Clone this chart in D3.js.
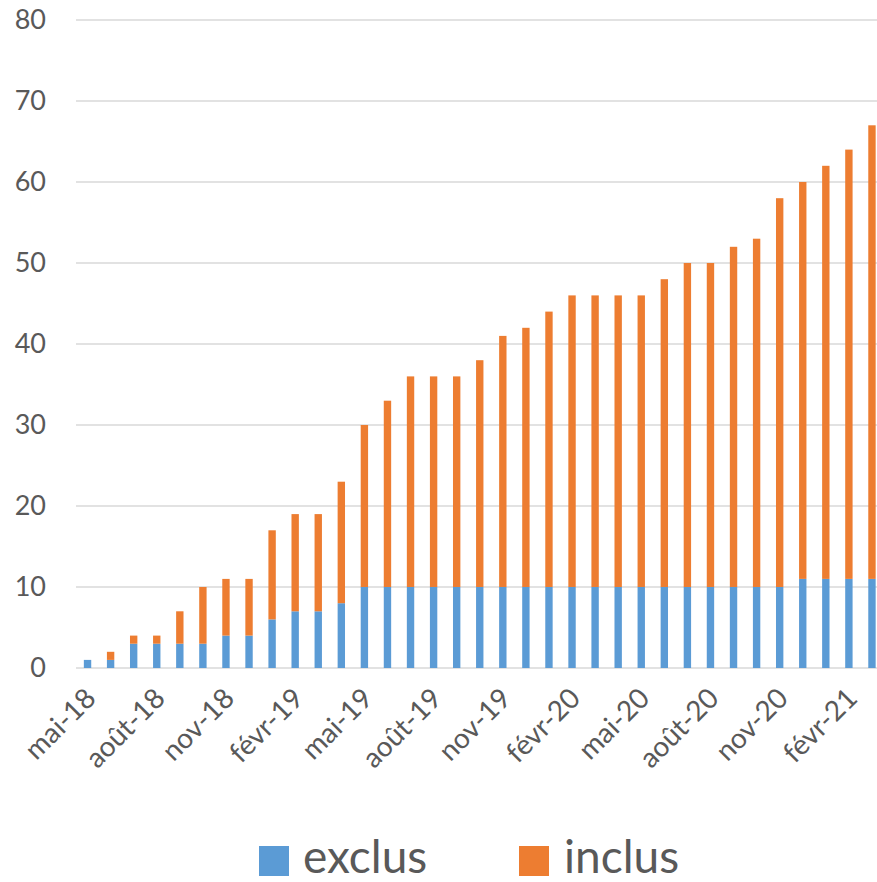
<!DOCTYPE html>
<html>
<head>
<meta charset="utf-8">
<script src="https://cdn.jsdelivr.net/npm/d3@7"></script>
<style>
  html, body { margin: 0; padding: 0; background: #fff; }
  svg { display: block; }
  text { font-family: Lato, "Open Sans", sans-serif; fill: #595959; }
</style>
</head>
<body>
<svg id="chart" width="877" height="882"></svg>
<script>
// Monthly cumulative counts, May 2018 – March 2021
const months = [
  "mai-18", "juin-18", "juil-18", "août-18", "sept-18", "oct-18", "nov-18", "déc-18",
  "janv-19", "févr-19", "mars-19", "avr-19", "mai-19", "juin-19", "juil-19", "août-19",
  "sept-19", "oct-19", "nov-19", "déc-19", "janv-20", "févr-20", "mars-20", "avr-20",
  "mai-20", "juin-20", "juil-20", "août-20", "sept-20", "oct-20", "nov-20", "déc-20",
  "janv-21", "févr-21", "mars-21"
];
const exclus = [1, 1, 3, 3, 3, 3, 4, 4, 6, 7, 7, 8, 10, 10, 10, 10, 10, 10, 10, 10,
  10, 10, 10, 10, 10, 10, 10, 10, 10, 10, 10, 11, 11, 11, 11];
const totals = [1, 2, 4, 4, 7, 10, 11, 11, 17, 19, 19, 23, 30, 33, 36, 36, 36, 38, 41, 42,
  44, 46, 46, 46, 46, 48, 50, 50, 52, 53, 58, 60, 62, 64, 67];
const inclus = totals.map((t, i) => t - exclus[i]);
// Every third month gets a label on the axis
const shownLabels = ["mai-18", "août-18", "nov-18", "févr-19", "mai-19", "août-19", "nov-19",
  "févr-20", "mai-20", "août-20", "nov-20", "févr-21"];
const yTicks = [0, 10, 20, 30, 40, 50, 60, 70, 80];
const seriesNames = ["exclus", "inclus"];
const colors = { exclus: "#5B9BD5", inclus: "#ED7D31" };

const svg = d3.select("#chart");

const x = d3.scaleBand()
  .domain(months)
  .range([76, 883.5])
  .paddingInner(0.68)
  .paddingOuter(0.34);

const y = d3.scaleLinear()
  .domain([0, 80])
  .range([668, 20]);

// Horizontal gridlines
svg.append("g")
  .selectAll("line")
  .data(yTicks)
  .join("line")
  .attr("x1", 76)
  .attr("x2", 883.5)
  .attr("y1", d => y(d))
  .attr("y2", d => y(d))
  .attr("stroke", "#D9D9D9")
  .attr("stroke-width", 1.5);

// Y axis labels
const yAxis = d3.axisLeft(y).tickValues(yTicks).tickSize(0).tickPadding(0);
const yg = svg.append("g")
  .attr("transform", "translate(46,0)")
  .call(yAxis);
yg.select(".domain").remove();
yg.selectAll("text")
  .attr("font-size", 27)
  .attr("font-family", "Lato, 'Open Sans', sans-serif")
  .attr("fill", "#595959");

// Stacked bars
const rows = months.map((m, i) => ({ month: m, exclus: exclus[i], inclus: inclus[i] }));
const stack = d3.stack().keys(seriesNames)(rows);

svg.append("g")
  .selectAll("g")
  .data(stack)
  .join("g")
  .attr("fill", d => colors[d.key])
  .selectAll("rect")
  .data(d => d)
  .join("rect")
  .attr("x", d => x(d.data.month))
  .attr("width", x.bandwidth())
  .attr("y", d => y(d[1]))
  .attr("height", d => y(d[0]) - y(d[1]));

// X axis labels, rotated
const xAxis = d3.axisBottom(x).tickValues(shownLabels).tickSize(0).tickPadding(0);
const xg = svg.append("g")
  .attr("transform", "translate(0,668)")
  .call(xAxis);
xg.select(".domain").remove();
xg.selectAll("text")
  .attr("font-size", 28)
  .attr("font-family", "Lato, 'Open Sans', sans-serif")
  .attr("fill", "#595959")
  .attr("text-anchor", "end")
  .attr("dy", "0")
  .attr("y", 0)
  .attr("transform", "translate(10,32) rotate(-45)");

// Legend
const legend = svg.append("g");
const legendItems = [
  { key: "exclus", sx: 259, tx: 303 },
  { key: "inclus", sx: 519, tx: 564 }
];
legend.selectAll("rect")
  .data(legendItems)
  .join("rect")
  .attr("x", d => d.sx)
  .attr("y", 846)
  .attr("width", 30)
  .attr("height", 30)
  .attr("fill", d => colors[d.key]);
legend.selectAll("text")
  .data(legendItems)
  .join("text")
  .attr("x", d => d.tx)
  .attr("y", 873)
  .attr("font-size", 46)
  .text(d => d.key);
</script>
</body>
</html>
